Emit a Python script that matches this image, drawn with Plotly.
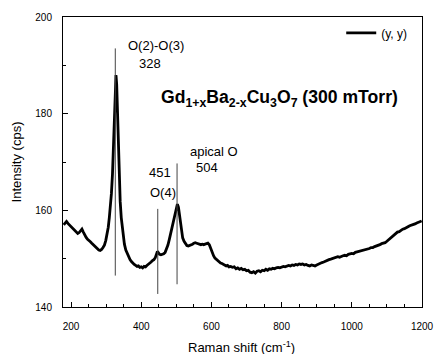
import plotly.graph_objects as go

shift = [179,183,187,191,195,199,203,207,211,215,219,223,227,231,235,239,243,247,251,255,
         259,263,267,271,275,279,283,287,291,295,299,303,306,309,312,315,318,320,322,324,
         326,328,330,332,334,336,338,340,343,346,349,352,356,360,364,368,372,376,380,384,
         388,392,396,400,404,408,412,416,420,424,428,432,436,440,443,446,449,452,456,460,
         464,468,472,476,480,484,488,492,496,500,503,506,509,512,515,518,522,526,530,534,
         538,542,546,550,554,558,562,566,570,574,578,582,586,590,594,598,602,606,610,614,
         618,622,626,630,634,638,642,646,650,655,660,665,670,675,680,685,690,695,700,705,
         710,715,720,725,730,735,740,745,750,755,760,765,770,775,780,785,790,795,800,805,
         810,815,820,825,830,835,840,845,850,855,860,865,870,875,880,885,890,895,900,905,
         910,915,920,925,930,935,940,945,950,955,960,965,970,975,980,985,990,995,1000,1005,
         1010,1015,1020,1025,1030,1035,1040,1045,1050,1055,1060,1065,1070,1075,1080,1085,1090,1095,1100,1105,
         1110,1115,1120,1125,1130,1135,1140,1145,1150,1155,1160,1165,1170,1175,1180,1185,1190,1195,1199]
intensity = [157.0,157.5,157.7,157.3,157.0,156.6,156.4,156.1,155.7,155.4,155.2,155.4,155.9,156.1,155.5,154.8,154.4,154.0,153.8,153.5,
             153.2,152.9,152.6,152.4,152.0,151.8,151.7,151.9,152.3,152.8,153.8,155.0,156.5,158.5,160.5,163.5,167.5,171.0,175.0,180.0,
             185.0,188.0,186.0,180.5,174.0,168.5,164.5,161.8,158.5,156.2,154.4,153.0,151.8,151.0,150.3,149.8,149.4,149.0,148.8,148.6,
             148.4,148.5,148.2,148.3,148.1,148.4,148.3,148.6,148.8,149.0,149.3,149.6,149.8,150.2,151.0,151.5,151.2,150.9,150.8,150.9,
             151.0,151.3,152.0,152.8,154.0,155.3,156.6,158.0,159.5,160.8,161.3,160.6,158.8,156.8,155.3,154.3,153.6,153.1,152.7,152.6,
             152.7,152.9,153.0,153.2,153.3,153.2,153.1,153.0,152.9,153.0,152.9,153.0,153.1,153.2,152.9,152.0,151.2,150.6,150.1,149.8,
             149.6,149.4,149.1,149.0,148.8,148.7,148.5,148.6,148.3,148.4,148.2,148.3,147.9,148.1,147.8,148.0,147.7,147.8,147.5,147.6,
             147.2,147.1,147.3,147.0,147.4,147.5,147.3,147.6,147.5,147.8,147.6,147.9,147.8,148.0,147.9,148.1,148.2,148.1,148.3,148.4,
             148.3,148.5,148.6,148.5,148.7,148.6,148.8,148.7,148.9,148.8,148.9,148.7,148.8,148.6,148.5,148.7,148.6,148.5,148.7,148.9,
             149.0,149.2,149.3,149.5,149.6,149.8,149.9,150.0,150.1,150.2,150.4,150.3,150.5,150.6,150.7,150.6,150.9,151.0,151.1,151.0,
             151.3,151.4,151.5,151.5,151.7,151.8,151.9,152.0,152.1,152.3,152.3,152.5,152.6,152.8,152.9,153.1,153.2,153.3,153.6,153.9,
             154.3,154.6,154.8,155.2,155.5,155.6,155.9,156.1,156.2,156.5,156.6,156.8,156.9,157.0,157.2,157.4,157.5,157.6,157.8]

# assignment markers (vertical lines)
mark_pos = [326, 447, 502]
mark_top = [193.5, 160.3, 169.7]
mark_bottom = [146.5, 142.7, 144.7]

x_ticks = [200, 400, 600, 800, 1000, 1200]
y_ticks = [140, 160, 180, 200]

FONT = "Liberation Sans, Arial, sans-serif"

fig = go.Figure()
fig.add_trace(go.Scatter(x=shift, y=intensity, mode="lines", name="(y, y)",
                         line=dict(color="black", width=2.8), showlegend=True))
for p, t, b in zip(mark_pos, mark_top, mark_bottom):
    fig.add_trace(go.Scatter(x=[p, p], y=[b, t], mode="lines", showlegend=False,
                             line=dict(color="#444444", width=1), hoverinfo="skip"))

ann = [
    ("O(2)-O(3)", 442, 194.1),
    ("328", 425, 190.4),
    ("apical O", 607, 172.2),
    ("504", 587, 168.8),
    ("451", 454, 167.8),
    ("O(4)", 462, 163.7),
]
for txt, ax_, ay_ in ann:
    fig.add_annotation(x=ax_, y=ay_, text=txt, showarrow=False,
                       font=dict(family=FONT, size=13, color="black"))
fig.add_annotation(x=795, y=183.1, showarrow=False,
                   text="<b>Gd<sub>1+x</sub>Ba<sub>2-x</sub>Cu<sub>3</sub>O<sub>7</sub> (300 mTorr)</b>",
                   font=dict(family=FONT, size=17.6, color="black"))
# x-axis title
fig.add_annotation(xref="paper", yref="paper", x=0.498, y=-0.1365, xanchor="center", yanchor="middle",
                   showarrow=False, text="Raman shift (cm<sup>-1</sup>)",
                   font=dict(family=FONT, size=13, color="black"))

fig.update_xaxes(range=[177, 1200], tickvals=x_ticks, ticks="inside", ticklen=5, tickwidth=1,
                 tickcolor="black", showline=True, linecolor="black", linewidth=1, mirror=True,
                 showgrid=False, zeroline=False, tickfont=dict(family=FONT, size=10),
                 minor=dict(dtick=50, ticks="inside", ticklen=3, tickcolor="black"),
                 automargin=False, ticklabelstandoff=10)
fig.update_yaxes(range=[140, 200], tickvals=y_ticks, ticks="inside", ticklen=5, tickwidth=1,
                 tickcolor="black", showline=True, linecolor="black", linewidth=1, mirror=True,
                 showgrid=False, zeroline=False, tickfont=dict(family=FONT, size=10),
                 minor=dict(dtick=10, ticks="inside", ticklen=3, tickcolor="black"),
                 title=dict(text="Intensity (cps)", font=dict(family=FONT, size=13), standoff=10),
                 ticklabelstandoff=8)

fig.update_layout(width=434, height=354, margin=dict(l=63, r=11, t=14, b=47),
                  paper_bgcolor="white", plot_bgcolor="white",
                  font=dict(family=FONT, color="black"),
                  legend=dict(x=0.775, y=0.995, xanchor="left", yanchor="top",
                              bgcolor="rgba(0,0,0,0)", font=dict(family=FONT, size=12)))
fig.write_html("out.html", config={"displayModeBar": False},
               post_script="document.body.style.margin='0';")
